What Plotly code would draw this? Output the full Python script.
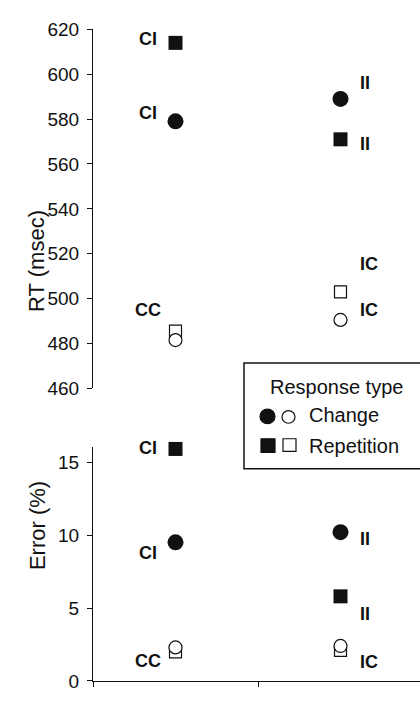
import plotly.graph_objects as go

# ---------------- data ----------------
conditions = ["CC", "CI", "IC", "II"]          # previous/current congruency
column_of = [0, 0, 1, 1]                        # CC, CI in first column; IC, II in second
rt_change = [481.5, 579, 490.5, 589]
rt_repetition = [485.5, 614, 503, 571]
err_change = [2.3, 9.5, 2.4, 10.2]
err_repetition = [2.0, 15.9, 2.1, 5.8]
rt_ticks = [460, 480, 500, 520, 540, 560, 580, 600, 620]
err_ticks = [0, 5, 10, 15]

W, H = 420, 701
FONT = "Liberation Sans, Arial, Helvetica, sans-serif"
INK = "#111111"

def px(x):
    return x / W

def py(y):
    return 1 - y / H

xpos = [c + 0.5 for c in column_of]
filled = [c in ("CI", "II") for c in conditions]

fig = go.Figure()

def add_markers(xaxis, yaxis, values_change, values_rep):
    for kind, vals, sym, sz_f, sz_o in (
        ("rep", values_rep, "square", 14, 12),
        ("chg", values_change, "circle", 16, 13),
    ):
        fx = [x for x, f in zip(xpos, filled) if f]
        fy = [v for v, f in zip(vals, filled) if f]
        ox = [x for x, f in zip(xpos, filled) if not f]
        oy = [v for v, f in zip(vals, filled) if not f]
        fig.add_trace(go.Scatter(x=ox, y=oy, mode="markers", xaxis=xaxis, yaxis=yaxis,
                                 marker=dict(symbol=sym, size=sz_o, color="white",
                                             line=dict(color=INK, width=1.2)),
                                 showlegend=False, cliponaxis=False, hoverinfo="skip"))
        fig.add_trace(go.Scatter(x=fx, y=fy, mode="markers", xaxis=xaxis, yaxis=yaxis,
                                 marker=dict(symbol=sym, size=sz_f, color=INK,
                                             line=dict(width=0)),
                                 showlegend=False, cliponaxis=False, hoverinfo="skip"))

add_markers("x2", "y2", rt_change, rt_repetition)
add_markers("x", "y", err_change, err_repetition)

x_range = [0, (W - 93) / 165]

fig.update_layout(
    width=W, height=H,
    margin=dict(l=0, r=0, t=0, b=0),
    paper_bgcolor="white", plot_bgcolor="white",
    font=dict(family=FONT, color=INK, size=19),
    xaxis=dict(domain=[px(93), 1], range=x_range, showline=True, linecolor=INK, linewidth=1,
               ticks="outside", ticklen=5, tickcolor=INK, tickvals=[0, 1], showticklabels=False,
               showgrid=False, zeroline=False, fixedrange=True),
    yaxis=dict(domain=[py(691.7), py(451)], range=[0, 16], showline=True, linecolor=INK,
               linewidth=1, ticks="outside", ticklen=5, tickcolor=INK, tickvals=err_ticks,
               ticktext=[str(t) for t in err_ticks], ticklabelstandoff=4,
               showgrid=False, zeroline=False, tickfont=dict(size=19)),
    xaxis2=dict(domain=[px(93), 1], range=x_range, visible=False, anchor="y2"),
    yaxis2=dict(domain=[py(390), py(20)], range=[460, 620], anchor="x2", showline=True,
                linecolor=INK, linewidth=1, ticks="outside", ticklen=5, tickcolor=INK,
                tickvals=rt_ticks, ticklabelstandoff=4, showgrid=False, zeroline=False,
                tickfont=dict(size=19)),
)

# ---------------- condition labels ----------------
LEFT_DX, RIGHT_DX = -27.5, 17
label_specs = [
    # (axis pair, condition, series values, yshift)
    ("x2", "y2", "CI", rt_repetition, 4),
    ("x2", "y2", "CI", rt_change, 8),
    ("x2", "y2", "CC", rt_repetition, 21),
    ("x2", "y2", "II", rt_change, 16),
    ("x2", "y2", "II", rt_repetition, -5),
    ("x2", "y2", "IC", rt_repetition, 27.5),
    ("x2", "y2", "IC", rt_change, 9.5),
    ("x", "y", "CI", err_repetition, 1),
    ("x", "y", "CI", err_change, -11),
    ("x", "y", "CC", err_repetition, -9),
    ("x", "y", "II", err_change, -7),
    ("x", "y", "II", err_repetition, -17.5),
    ("x", "y", "IC", err_repetition, -12),
]
for xr, yr, cond, vals, dy in label_specs:
    i = conditions.index(cond)
    left = column_of[i] == 0
    fig.add_annotation(x=xpos[i], y=vals[i], xref=xr, yref=yr, text="<b>%s</b>" % cond,
                       showarrow=False, xanchor="center" if left else "left", yanchor="middle",
                       xshift=LEFT_DX if left else RIGHT_DX, yshift=dy,
                       font=dict(size=18, family=FONT, color=INK))

# ---------------- axis titles ----------------
fig.add_annotation(x=px(22.5), y=py(204), xref="paper", yref="paper", text="RT (msec)",
                   textangle=-90, showarrow=False, font=dict(size=22, family=FONT, color=INK))
fig.add_annotation(x=px(22.5), y=py(580), xref="paper", yref="paper", text="Error (%)",
                   textangle=-90, showarrow=False, font=dict(size=22, family=FONT, color=INK))

# ---------------- legend box ----------------
fig.add_shape(type="rect", xref="paper", yref="paper", x0=px(244), x1=px(422), y0=py(473),
              y1=py(364), line=dict(color=INK, width=1.5), fillcolor="white", layer="above")

def circle(cx, cy, d, fill):
    fig.add_shape(type="circle", xref="paper", yref="paper", x0=px(cx - d / 2), x1=px(cx + d / 2),
                  y0=py(cy + d / 2), y1=py(cy - d / 2), fillcolor=fill,
                  line=dict(color=INK, width=1.2), layer="above")

def square(cx, cy, s, fill):
    fig.add_shape(type="rect", xref="paper", yref="paper", x0=px(cx - s / 2), x1=px(cx + s / 2),
                  y0=py(cy + s / 2), y1=py(cy - s / 2), fillcolor=fill,
                  line=dict(color=INK, width=1.2), layer="above")

circle(267.5, 419, 15, INK)
circle(288.5, 419.5, 13, "white")
square(268, 449, 14, INK)
square(289.5, 448.5, 13, "white")

fig.add_annotation(x=px(336), y=py(389), xref="paper", yref="paper", text="Response type",
                   showarrow=False, xanchor="center", yanchor="middle",
                   font=dict(size=20, family=FONT, color=INK))
fig.add_annotation(x=px(307), y=py(418), xref="paper", yref="paper", text="Change",
                   showarrow=False, xanchor="left", yanchor="middle",
                   font=dict(size=20, family=FONT, color=INK))
fig.add_annotation(x=px(307), y=py(449), xref="paper", yref="paper", text="Repetition",
                   showarrow=False, xanchor="left", yanchor="middle",
                   font=dict(size=20, family=FONT, color=INK))

fig.write_html(
    "out.html",
    config={"displayModeBar": False, "staticPlot": True},
    post_script="document.body.style.margin='0';document.body.style.overflow='hidden';",
)
